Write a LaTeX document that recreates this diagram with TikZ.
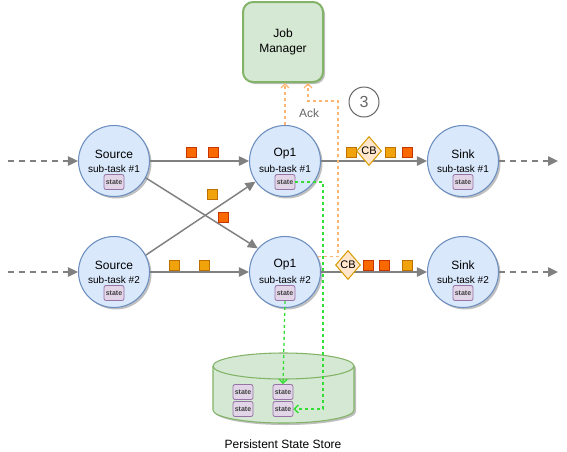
\documentclass[tikz,border=0pt]{standalone}
\usepackage{fontspec}
\setmainfont{Liberation Sans}
\usetikzlibrary{shapes.geometric,arrows.meta,shadows,calc}
\definecolor{procfill}{HTML}{DAE8FC}
\definecolor{procline}{HTML}{6C8EBF}
\definecolor{stfill}{HTML}{E1D5E7}
\definecolor{stline}{HTML}{9673A6}
\definecolor{jmfill}{HTML}{D5E8D4}
\definecolor{jmline}{HTML}{82B366}
\definecolor{flowgray}{HTML}{808080}
\definecolor{pktred}{HTML}{FA6800}
\definecolor{pktredline}{HTML}{C73500}
\definecolor{pktyel}{HTML}{F0A30A}
\definecolor{pktyelline}{HTML}{BD7000}
\definecolor{cbfill}{HTML}{FFE6CC}
\definecolor{cbline}{HTML}{D79B00}
\definecolor{ackorange}{HTML}{FFB570}
\definecolor{grn}{HTML}{33DD33}
\definecolor{txtgray}{HTML}{666666}
\begin{document}
\begin{tikzpicture}[x=0.75pt,y=-0.75pt,
  proc/.style={circle, draw=procline, fill=procfill, line width=0.8pt,
    minimum size=53.25pt, inner sep=0pt,
    drop shadow={shadow xshift=1.5pt, shadow yshift=-1.5pt, opacity=0.25, fill=black}},
  ttl/.style={font=\fontsize{9}{10}\selectfont, inner sep=0pt},
  sub/.style={font=\fontsize{7.5}{9}\selectfont, inner sep=0pt},
  stbox/.style={draw=stline, fill=stfill, rounded corners=1.5pt, line width=0.6pt,
    minimum width=15pt, minimum height=11.25pt, inner sep=0pt,
    font=\fontsize{5.25}{6}\selectfont\bfseries, text=black!75},
  flow/.style={draw=flowgray, line width=1.1pt, -{Triangle[length=7.5pt,width=7pt]}},
  dflow/.style={flow, dash pattern=on 4.5pt off 3.75pt},
  pkt/.style={rectangle, minimum size=7.5pt, inner sep=0pt, line width=0.6pt},
  pr/.style={pkt, fill=pktred, draw=pktredline},
  py/.style={pkt, fill=pktyel, draw=pktyelline},
  cb/.style={diamond, aspect=0.86, fill=cbfill, draw=cbline, line width=0.75pt,
    minimum width=18.75pt, minimum height=21.75pt, inner sep=0pt,
    font=\fontsize{8.25}{9}\selectfont},
  ack/.style={draw=ackorange, line width=1pt, dash pattern=on 2.25pt off 2.25pt,
    -{Straight Barb[length=3pt,width=6pt]}},
  gline/.style={color=grn, line width=1pt, dash pattern=on 2.25pt off 2.25pt,
    -{Straight Barb[length=3pt,width=6pt]}}
]
\useasboundingbox (0,0) rectangle (567,451);

% Job manager
\node[draw=jmline, fill=jmfill, line width=1.5pt, rounded corners=7.5pt,
  minimum width=60pt, minimum height=60pt, align=center,
  font=\fontsize{9}{11.5}\selectfont,
  drop shadow={shadow xshift=1.5pt, shadow yshift=-1.5pt, opacity=0.25, fill=black}]
  (jm) at (283,42) {Job\\Manager};

% persistent store cylinder
\draw[draw=jmline, fill=jmfill, line width=0.8pt,
  drop shadow={shadow xshift=1.5pt, shadow yshift=-1.5pt, opacity=0.25, fill=black}]
  (213,366) -- (213,410) arc[start angle=180, end angle=360, x radius=52.875pt, y radius=9.75pt]
  -- (354,366) arc[start angle=0, end angle=180, x radius=52.875pt, y radius=9.75pt] -- cycle;
\draw[draw=jmline, line width=0.8pt]
  (213,366) arc[start angle=180, end angle=360, x radius=52.875pt, y radius=9.75pt];
\node[stbox] (sta) at (243,392) {state};
\node[stbox] (stb) at (243,409) {state};
\node[stbox] (stc) at (283,392) {state};
\node[stbox] (std) at (283,409) {state};
\node[font=\fontsize{9}{10}\selectfont] (storelbl) at (283,444) {Persistent State Store};

% processes
\foreach \n/\x/\y/\t/\s in {s1/114/161/Source/sub-task \#1, s2/114/272/Source/sub-task \#2,
    o1/285/161/Op1/sub-task \#1, o2/285/272/Op1/sub-task \#2,
    k1/463/161/Sink/sub-task \#1, k2/463/272/Sink/sub-task \#2}{
  \node[proc] (\n) at (\x,\y) {};
  \node[ttl] (\n t) at (\x,\y-7) {\t};
  \node[sub] (\n s) at (\x,\y+8) {\s};
  \node[stbox] (\n st) at (\x,\y+21) {state};
}

% in / out
\coordinate (in1) at (8,161);
\coordinate (in2) at (8,272);
\coordinate (out1) at (558,161);
\coordinate (out2) at (558,272);
\draw[dflow] (in1) -- (s1.west);
\draw[dflow] (in2) -- (s2.west);
\draw[dflow] (k1.east) -- (out1);
\draw[dflow] (k2.east) -- (out2);

% flows
\draw[flow] (s1.east) -- (o1.west);
\draw[flow] (s2.east) -- (o2.west);
\draw[flow] (s1.-28) -- (o2.139);
\draw[flow] (s2.28) -- (o1.-145);
\draw[flow] (o1.east) -- (k1.west);
\draw[flow] (o2.east) -- (k2.west);

% acks
\draw[ack] (o1.north) -- (o1.north |- jm.south);
\draw[ack] (o2.25) -| (338,101) -| ($(jm.south)+(25,0)$);
\node[font=\fontsize{9}{10}\selectfont, text=txtgray] (acklbl) at (309,113) {Ack};
\node[circle, draw=txtgray, line width=0.75pt, minimum size=22.5pt, inner sep=0pt,
  font=\fontsize{12}{13}\selectfont, text=txtgray] (three) at (364,102) {3};

% state snapshots
\coordinate (gcorner) at (323,182);
\draw[gline] (o1st.east) -- (o1st.east -| gcorner) -- (gcorner |- std.east) -- (std.east);
\draw[gline] (o2st.south) -- (stc.north);

% packets
\node[pr] (p1) at (191,152) {};
\node[pr] (p2) at (213,152) {};
\node[py] (p3) at (212,194) {};
\node[pr] (p4) at (223,217) {};
\node[py] (p5) at (174,265) {};
\node[py] (p6) at (204,265) {};
\node[py] (p7) at (351,152) {};
\node[cb] (cb1) at (369,151) {CB};
\node[py] (p8) at (390,152) {};
\node[pr] (p9) at (407,152) {};
\node[cb] (cb2) at (348,265) {CB};
\node[pr] (p10) at (368,265) {};
\node[pr] (p11) at (384,265) {};
\node[py] (p12) at (407,265) {};
\end{tikzpicture}
\end{document}
